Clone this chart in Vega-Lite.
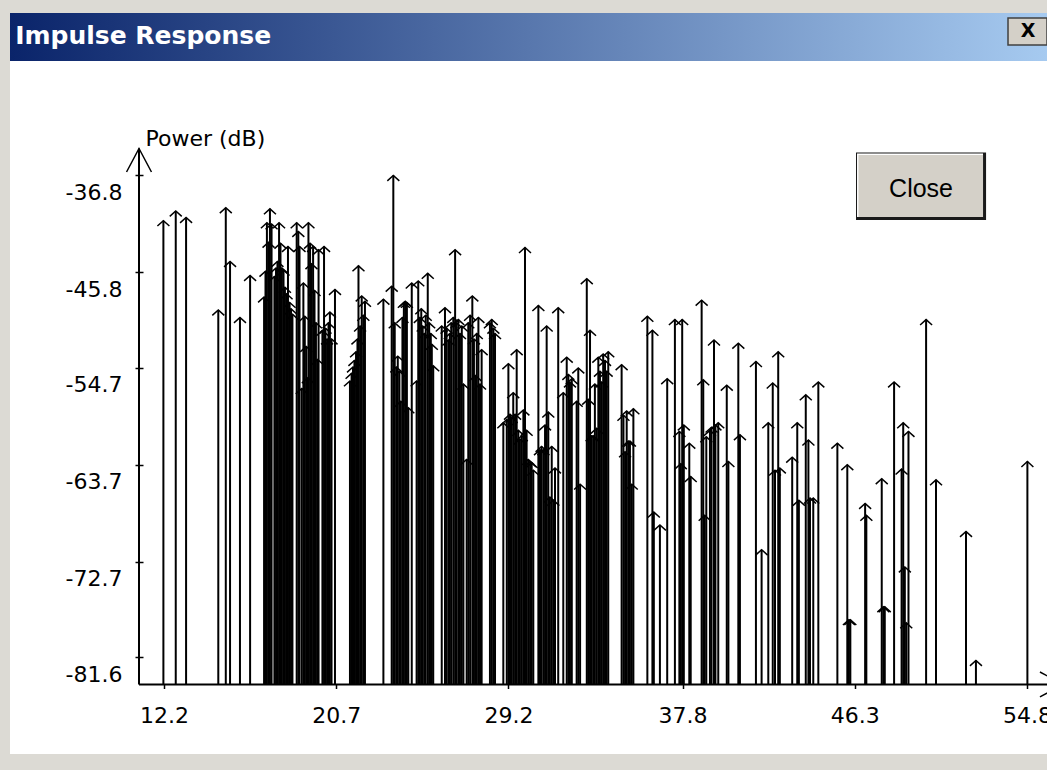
{
  "$schema": "https://vega.github.io/schema/vega-lite/v6.json",
  "background": "#dcdad4",
  "padding": {"left": 10, "top": 13, "right": 0, "bottom": 16},
  "spacing": 0,
  "bounds": "flush",
  "config": {"view": {"stroke": null}},
  "vconcat": [
    {
      "width": 1037,
      "height": 48,
      "data": {"values": [{"title": "Impulse Response"}]},
      "layer": [
        {
          "mark": {"type": "rect", "fill": {"gradient": "linear", "x1": 0, "x2": 1, "y1": 0, "y2": 0, "stops": [{"offset": 0, "color": "#0a246a"}, {"offset": 1, "color": "#a6caf0"}]}},
          "encoding": {
            "x": {"datum": 0, "type": "quantitative", "scale": {"domain": [0, 1], "nice": false, "zero": false}, "axis": null},
            "x2": {"datum": 1},
            "y": {"datum": 0, "type": "quantitative", "scale": {"domain": [0, 1], "nice": false, "zero": false}, "axis": null},
            "y2": {"datum": 1}
          }
        },
        {
          "mark": {"type": "text", "align": "left", "baseline": "alphabetic", "font": "DejaVu Sans", "fontSize": 25, "fontWeight": "bold", "color": "white"},
          "encoding": {
            "x": {"datum": 0.005, "type": "quantitative", "axis": null},
            "y": {"datum": 0.36, "type": "quantitative", "axis": null},
            "text": {"field": "title"}
          }
        },
        {
          "mark": {"type": "rect", "fill": "#d4d0c8", "stroke": "#404040", "strokeWidth": 1.5},
          "encoding": {
            "x": {"datum": 0.9624, "type": "quantitative", "axis": null},
            "x2": {"datum": 1.0},
            "y": {"datum": 0.896, "type": "quantitative", "axis": null},
            "y2": {"datum": 0.333}
          }
        },
        {
          "mark": {"type": "text", "text": "X", "align": "center", "baseline": "middle", "font": "DejaVu Sans", "fontSize": 19, "fontWeight": "bold", "color": "black"},
          "encoding": {
            "x": {"datum": 0.9817, "type": "quantitative", "axis": null},
            "y": {"datum": 0.615, "type": "quantitative", "axis": null}
          }
        }
      ]
    },
    {
      "width": 1037,
      "height": 693,
      "view": {"fill": "white", "stroke": null},
      "data": {"values": [
        {"delay": 12.17, "power": -41.0}, {"delay": 12.78, "power": -40.1}, {"delay": 13.29, "power": -40.7},
        {"delay": 14.88, "power": -49.3}, {"delay": 15.25, "power": -39.8}, {"delay": 15.46, "power": -44.8},
        {"delay": 15.95, "power": -50.0}, {"delay": 16.45, "power": -46.1},
        {"delay": 17.14, "power": -48.1}, {"delay": 17.21, "power": -45.7}, {"delay": 17.28, "power": -41.2},
        {"delay": 17.36, "power": -43.0}, {"delay": 17.43, "power": -39.9}, {"delay": 17.51, "power": -41.3},
        {"delay": 17.65, "power": -46.2}, {"delay": 17.73, "power": -45.4}, {"delay": 17.80, "power": -44.8},
        {"delay": 17.88, "power": -41.2}, {"delay": 17.95, "power": -43.1}, {"delay": 18.02, "power": -45.4},
        {"delay": 18.10, "power": -45.6}, {"delay": 18.17, "power": -47.2}, {"delay": 18.25, "power": -47.8},
        {"delay": 18.32, "power": -43.4}, {"delay": 18.40, "power": -48.6}, {"delay": 18.47, "power": -49.2},
        {"delay": 18.54, "power": -49.7},
        {"delay": 18.75, "power": -41.2}, {"delay": 18.83, "power": -42.0}, {"delay": 18.89, "power": -43.4},
        {"delay": 19.00, "power": -56.6},
        {"delay": 19.08, "power": -46.8}, {"delay": 19.15, "power": -49.9}, {"delay": 19.22, "power": -52.7},
        {"delay": 19.30, "power": -55.6}, {"delay": 19.33, "power": -41.2}, {"delay": 19.41, "power": -43.1},
        {"delay": 19.48, "power": -45.0}, {"delay": 19.56, "power": -43.4}, {"delay": 19.63, "power": -47.5},
        {"delay": 19.70, "power": -50.5}, {"delay": 19.78, "power": -53.9}, {"delay": 19.83, "power": -43.7},
        {"delay": 20.02, "power": -51.2}, {"delay": 20.10, "power": -43.4}, {"delay": 20.17, "power": -51.0},
        {"delay": 20.25, "power": -52.0}, {"delay": 20.32, "power": -50.5}, {"delay": 20.39, "power": -49.5},
        {"delay": 20.47, "power": -52.0}, {"delay": 20.64, "power": -47.4},
        {"delay": 21.38, "power": -55.9}, {"delay": 21.46, "power": -55.2}, {"delay": 21.53, "power": -54.6},
        {"delay": 21.60, "power": -54.0}, {"delay": 21.68, "power": -53.2}, {"delay": 21.75, "power": -52.0},
        {"delay": 21.80, "power": -45.2}, {"delay": 21.88, "power": -50.8}, {"delay": 21.96, "power": -48.0},
        {"delay": 22.04, "power": -49.8}, {"delay": 22.12, "power": -48.5},
        {"delay": 23.03, "power": -48.3},
        {"delay": 23.44, "power": -47.1}, {"delay": 23.52, "power": -36.8}, {"delay": 23.59, "power": -50.5},
        {"delay": 23.67, "power": -54.6}, {"delay": 23.74, "power": -53.6}, {"delay": 23.82, "power": -55.0},
        {"delay": 23.89, "power": -57.8}, {"delay": 23.97, "power": -50.0}, {"delay": 24.04, "power": -48.6},
        {"delay": 24.11, "power": -48.5}, {"delay": 24.19, "power": -48.6}, {"delay": 24.26, "power": -58.4},
        {"delay": 24.43, "power": -46.8}, {"delay": 24.67, "power": -55.9}, {"delay": 24.75, "power": -46.6},
        {"delay": 24.83, "power": -50.0}, {"delay": 24.90, "power": -49.2}, {"delay": 24.97, "power": -50.8},
        {"delay": 25.05, "power": -51.5}, {"delay": 25.12, "power": -49.8}, {"delay": 25.22, "power": -45.9},
        {"delay": 25.29, "power": -50.5}, {"delay": 25.37, "power": -51.5}, {"delay": 25.42, "power": -52.5},
        {"delay": 25.49, "power": -54.5},
        {"delay": 25.91, "power": -50.8}, {"delay": 26.07, "power": -49.1}, {"delay": 26.15, "power": -51.0},
        {"delay": 26.24, "power": -52.1}, {"delay": 26.31, "power": -51.5}, {"delay": 26.38, "power": -50.5},
        {"delay": 26.48, "power": -50.0}, {"delay": 26.57, "power": -43.7}, {"delay": 26.64, "power": -50.5},
        {"delay": 26.73, "power": -50.2}, {"delay": 26.81, "power": -51.5}, {"delay": 26.90, "power": -50.8},
        {"delay": 26.98, "power": -56.2}, {"delay": 27.14, "power": -63.2},
        {"delay": 27.22, "power": -50.5}, {"delay": 27.31, "power": -49.8}, {"delay": 27.42, "power": -48.0},
        {"delay": 27.50, "power": -52.0}, {"delay": 27.57, "power": -55.4}, {"delay": 27.64, "power": -51.5},
        {"delay": 27.72, "power": -50.0}, {"delay": 27.80, "power": -56.2}, {"delay": 27.88, "power": -53.0},
        {"delay": 28.29, "power": -50.5}, {"delay": 28.38, "power": -50.2}, {"delay": 28.46, "power": -51.0},
        {"delay": 28.54, "power": -51.5},
        {"delay": 28.95, "power": -59.8}, {"delay": 29.12, "power": -59.5}, {"delay": 29.20, "power": -54.3},
        {"delay": 29.28, "power": -59.0}, {"delay": 29.36, "power": -59.3}, {"delay": 29.44, "power": -57.0},
        {"delay": 29.53, "power": -59.0}, {"delay": 29.61, "power": -53.0}, {"delay": 29.69, "power": -60.5},
        {"delay": 29.77, "power": -61.3}, {"delay": 29.86, "power": -61.0}, {"delay": 29.94, "power": -58.6},
        {"delay": 30.02, "power": -43.5}, {"delay": 30.10, "power": -60.5}, {"delay": 30.18, "power": -63.2},
        {"delay": 30.27, "power": -63.4}, {"delay": 30.35, "power": -63.5}, {"delay": 30.43, "power": -64.2},
        {"delay": 30.68, "power": -48.9}, {"delay": 30.76, "power": -62.3},
        {"delay": 30.84, "power": -62.0}, {"delay": 30.93, "power": -62.3}, {"delay": 31.01, "power": -60.0},
        {"delay": 31.09, "power": -50.8}, {"delay": 31.17, "power": -58.8}, {"delay": 31.25, "power": -66.7},
        {"delay": 31.34, "power": -62.0}, {"delay": 31.42, "power": -67.0}, {"delay": 31.50, "power": -64.0},
        {"delay": 31.66, "power": -49.1},
        {"delay": 31.91, "power": -57.0}, {"delay": 32.08, "power": -53.7}, {"delay": 32.16, "power": -55.3},
        {"delay": 32.24, "power": -56.0}, {"delay": 32.33, "power": -55.7}, {"delay": 32.57, "power": -57.8},
        {"delay": 32.65, "power": -54.7}, {"delay": 32.74, "power": -65.5},
        {"delay": 33.07, "power": -46.4}, {"delay": 33.14, "power": -57.6}, {"delay": 33.23, "power": -51.2},
        {"delay": 33.31, "power": -61.0}, {"delay": 33.39, "power": -61.0}, {"delay": 33.47, "power": -56.2},
        {"delay": 33.56, "power": -60.3}, {"delay": 33.64, "power": -53.7}, {"delay": 33.72, "power": -55.0},
        {"delay": 33.80, "power": -56.0}, {"delay": 33.88, "power": -53.4}, {"delay": 33.97, "power": -54.0},
        {"delay": 34.05, "power": -55.0}, {"delay": 34.13, "power": -53.2},
        {"delay": 34.79, "power": -54.4}, {"delay": 34.88, "power": -59.1}, {"delay": 34.96, "power": -62.5},
        {"delay": 35.04, "power": -58.7}, {"delay": 35.12, "power": -61.5}, {"delay": 35.20, "power": -61.5},
        {"delay": 35.29, "power": -65.5}, {"delay": 35.37, "power": -58.5},
        {"delay": 36.06, "power": -49.9}, {"delay": 36.31, "power": -51.2}, {"delay": 36.38, "power": -68.1},
        {"delay": 36.68, "power": -69.3}, {"delay": 37.04, "power": -55.7}, {"delay": 37.42, "power": -50.2},
        {"delay": 37.64, "power": -60.6}, {"delay": 37.71, "power": -63.6}, {"delay": 37.78, "power": -50.2},
        {"delay": 37.86, "power": -60.0}, {"delay": 38.13, "power": -61.7}, {"delay": 38.20, "power": -64.8},
        {"delay": 38.74, "power": -48.4}, {"delay": 38.82, "power": -55.8}, {"delay": 38.89, "power": -68.4},
        {"delay": 38.97, "power": -61.1}, {"delay": 39.15, "power": -60.5}, {"delay": 39.23, "power": -60.2},
        {"delay": 39.35, "power": -52.1}, {"delay": 39.42, "power": -60.0}, {"delay": 39.56, "power": -59.8},
        {"delay": 39.98, "power": -56.3}, {"delay": 40.06, "power": -63.4}, {"delay": 40.55, "power": -52.4},
        {"delay": 40.63, "power": -60.9}, {"delay": 41.42, "power": -54.1}, {"delay": 41.70, "power": -71.6},
        {"delay": 42.03, "power": -59.8}, {"delay": 42.25, "power": -56.1}, {"delay": 42.36, "power": -64.2},
        {"delay": 42.52, "power": -53.2}, {"delay": 42.60, "power": -64.0}, {"delay": 43.21, "power": -63.0},
        {"delay": 43.46, "power": -59.8}, {"delay": 43.54, "power": -67.0}, {"delay": 43.88, "power": -57.2},
        {"delay": 44.01, "power": -61.4}, {"delay": 44.09, "power": -66.8}, {"delay": 44.25, "power": -66.8},
        {"delay": 44.50, "power": -56.0}, {"delay": 45.44, "power": -61.7}, {"delay": 45.93, "power": -63.7},
        {"delay": 46.01, "power": -78.1}, {"delay": 46.08, "power": -78.1}, {"delay": 46.81, "power": -67.3},
        {"delay": 46.87, "power": -68.4}, {"delay": 47.63, "power": -65.0}, {"delay": 47.71, "power": -76.9},
        {"delay": 47.78, "power": -76.9}, {"delay": 48.24, "power": -56.0}, {"delay": 48.61, "power": -64.1},
        {"delay": 48.69, "power": -59.8}, {"delay": 48.77, "power": -73.2}, {"delay": 48.84, "power": -78.4},
        {"delay": 48.95, "power": -60.6}, {"delay": 49.82, "power": -50.2}, {"delay": 50.31, "power": -65.1},
        {"delay": 51.79, "power": -69.9}, {"delay": 52.28, "power": -81.9}, {"delay": 54.82, "power": -63.4}
      ]},
      "layer": [
        {
          "mark": {"type": "rule", "color": "black", "strokeWidth": 2},
          "encoding": {
            "x": {
              "field": "delay", "type": "quantitative",
              "scale": {"domain": [4.598, 55.788], "nice": false, "zero": false},
              "axis": {
                "orient": "bottom", "offset": -69.5, "domain": false, "grid": false, "zindex": 1,
                "values": [12.2, 20.7, 29.2, 37.8, 46.3, 54.8], "labelExpr": "'' + datum.value",
                "tickSize": 4, "tickColor": "black", "tickWidth": 1.5,
                "labelFont": "DejaVu Sans", "labelFontSize": 22, "labelColor": "black",
                "labelPadding": 17, "labelFlush": false, "labelOverlap": false,
                "title": null
              }
            },
            "y": {
              "field": "power", "type": "quantitative",
              "scale": {"domain": [-90.594, -26.153], "nice": false, "zero": false},
              "axis": {
                "orient": "left", "offset": -133, "domain": false, "grid": false, "zindex": 1,
                "values": [-36.8, -45.8, -54.7, -63.7, -72.7, -81.6], "labelExpr": "'' + datum.value",
                "tickSize": 8, "tickColor": "black", "tickWidth": 1.5,
                "labelFont": "DejaVu Sans", "labelFontSize": 22, "labelColor": "black",
                "labelPadding": 13, "labelOffset": 17, "labelBaseline": "middle", "labelOverlap": false, "labelFlush": false,
                "title": "Power (dB)", "titleAngle": 0, "titleX": 2, "titleY": 84,
                "titleAlign": "left", "titleBaseline": "alphabetic",
                "titleFont": "DejaVu Sans", "titleFontSize": 22, "titleFontWeight": "normal", "titleColor": "black"
              }
            },
            "y2": {"datum": -84.13}
          }
        },
        {
          "mark": {"type": "point", "shape": "M-1,0.9L0,0L1,0.9", "size": 144, "filled": false, "color": "black", "strokeWidth": 1.5, "opacity": 1},
          "encoding": {
            "x": {"field": "delay", "type": "quantitative"},
            "y": {"field": "power", "type": "quantitative"}
          }
        },
        {
          "data": {"values": [{}]},
          "mark": {"type": "rule", "color": "black", "strokeWidth": 2},
          "encoding": {
            "x": {"datum": 10.966, "type": "quantitative"},
            "y": {"datum": -84.13, "type": "quantitative"},
            "y2": {"datum": -34.29}
          }
        },
        {
          "data": {"values": [{}]},
          "mark": {"type": "rule", "color": "black", "strokeWidth": 2},
          "encoding": {
            "x": {"datum": 10.966, "type": "quantitative"},
            "x2": {"datum": 56.6},
            "y": {"datum": -84.13, "type": "quantitative"}
          }
        },
        {
          "data": {"values": [{}]},
          "mark": {"type": "point", "shape": "M-0.53,1L0,0L0.53,1", "size": 2209, "filled": false, "color": "black", "strokeWidth": 1.5, "opacity": 1},
          "encoding": {
            "x": {"datum": 10.966, "type": "quantitative"},
            "y": {"datum": -34.29, "type": "quantitative"}
          }
        },
        {
          "data": {"values": [{}]},
          "mark": {"type": "point", "shape": "M-1,-0.53L0,0L-1,0.53", "size": 2209, "filled": false, "color": "black", "strokeWidth": 1.5, "opacity": 1},
          "encoding": {
            "x": {"datum": 56.6, "type": "quantitative"},
            "y": {"datum": -84.13, "type": "quantitative"}
          }
        },
        {
          "data": {"values": [{}]},
          "mark": {"type": "rect", "fill": "#1a1a1a"},
          "encoding": {
            "x": {"datum": 46.36, "type": "quantitative"},
            "x2": {"datum": 52.78},
            "y": {"datum": -34.66, "type": "quantitative"},
            "y2": {"datum": -40.94}
          }
        },
        {
          "data": {"values": [{}]},
          "mark": {"type": "rect", "fill": "#ffffff"},
          "encoding": {
            "x": {"datum": 46.41, "type": "quantitative"},
            "x2": {"datum": 52.63},
            "y": {"datum": -34.75, "type": "quantitative"},
            "y2": {"datum": -40.66}
          }
        },
        {
          "data": {"values": [{}]},
          "mark": {"type": "rect", "fill": "#d4d0c8"},
          "encoding": {
            "x": {"datum": 46.48, "type": "quantitative"},
            "x2": {"datum": 52.63},
            "y": {"datum": -34.89, "type": "quantitative"},
            "y2": {"datum": -40.66}
          }
        },
        {
          "data": {"values": [{}]},
          "mark": {"type": "text", "text": "Close", "align": "center", "baseline": "alphabetic", "font": "Liberation Sans", "fontSize": 25, "color": "black"},
          "encoding": {
            "x": {"datum": 49.57, "type": "quantitative"},
            "y": {"datum": -38.83, "type": "quantitative"}
          }
        }
      ]
    }
  ]
}
